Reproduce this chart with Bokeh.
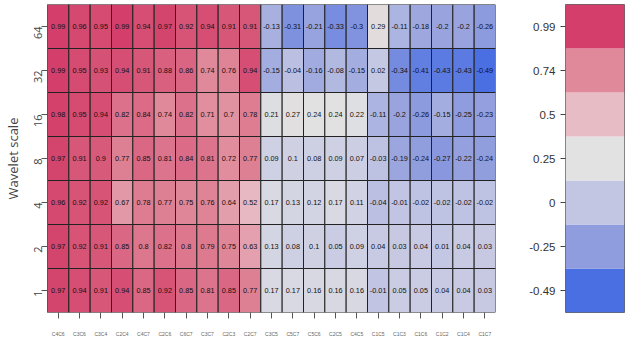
import math
from bokeh.plotting import figure
from bokeh.models import FactorRange, ColumnDataSource
from bokeh.layouts import row
from bokeh.core.properties import value
from bokeh.embed import file_html
from bokeh.resources import INLINE

pairs = ["C4C6", "C3C6", "C3C4", "C2C4", "C4C7", "C2C6", "C6C7", "C3C7", "C2C3", "C2C7",
         "C3C5", "C5C7", "C5C6", "C2C5", "C4C5", "C1C5", "C1C3", "C1C6", "C1C2", "C1C4", "C1C7"]
scales = ["1", "2", "4", "8", "16", "32", "64"]

s64 = [0.99, 0.96, 0.95, 0.99, 0.94, 0.97, 0.92, 0.94, 0.91, 0.91, -0.13, -0.31, -0.21, -0.33, -0.3, 0.29, -0.11, -0.18, -0.2, -0.2, -0.26]
s32 = [0.99, 0.95, 0.93, 0.94, 0.91, 0.88, 0.86, 0.74, 0.76, 0.94, -0.15, -0.04, -0.16, -0.08, -0.15, 0.02, -0.34, -0.41, -0.43, -0.43, -0.49]
s16 = [0.98, 0.95, 0.94, 0.82, 0.84, 0.74, 0.82, 0.71, 0.7, 0.78, 0.21, 0.27, 0.24, 0.24, 0.22, -0.11, -0.2, -0.26, -0.15, -0.25, -0.23]
s8 = [0.97, 0.91, 0.9, 0.77, 0.85, 0.81, 0.84, 0.81, 0.72, 0.77, 0.09, 0.1, 0.08, 0.09, 0.07, -0.03, -0.19, -0.24, -0.27, -0.22, -0.24]
s4 = [0.96, 0.92, 0.92, 0.67, 0.78, 0.77, 0.75, 0.76, 0.64, 0.52, 0.17, 0.13, 0.12, 0.17, 0.11, -0.04, -0.01, -0.02, -0.02, -0.02, -0.02]
s2 = [0.97, 0.92, 0.91, 0.85, 0.8, 0.82, 0.8, 0.79, 0.75, 0.63, 0.13, 0.08, 0.1, 0.05, 0.09, 0.04, 0.03, 0.04, 0.01, 0.04, 0.03]
s1 = [0.97, 0.94, 0.91, 0.94, 0.85, 0.92, 0.85, 0.81, 0.85, 0.77, 0.17, 0.17, 0.16, 0.16, 0.16, -0.01, 0.05, 0.05, 0.04, 0.04, 0.03]
rows_by_scale = {"1": s1, "2": s2, "4": s4, "8": s8, "16": s16, "32": s32, "64": s64}

legend_labels = ["-0.49", "-0.25", "0", "0.25", "0.5", "0.74", "0.99"]
legend_values = [-0.49, -0.25, 0.0, 0.25, 0.5, 0.74, 0.99]
legend_colors = ["#4A6FE3", "#8F9CDE", "#C3C6E3", "#E2E2E2", "#E8BCC5", "#E0899A", "#D33F6A"]


def hex2rgb(h):
    h = h.lstrip("#")
    return [int(h[i:i + 2], 16) for i in (0, 2, 4)]


def interp_color(v):
    if v <= legend_values[0]:
        return legend_colors[0]
    if v >= legend_values[-1]:
        return legend_colors[-1]
    for i in range(len(legend_values) - 1):
        a, b = legend_values[i], legend_values[i + 1]
        if a <= v <= b:
            t = (v - a) / (b - a)
            c1, c2 = hex2rgb(legend_colors[i]), hex2rgb(legend_colors[i + 1])
            c = [round(c1[k] + (c2[k] - c1[k]) * t) for k in range(3)]
            return "#%02X%02X%02X" % tuple(c)


xs, ys, vals, cols, labs = [], [], [], [], []
for sc in scales:
    for pr, v in zip(pairs, rows_by_scale[sc]):
        xs.append(pr)
        ys.append(sc)
        vals.append(v)
        cols.append(interp_color(v))
        labs.append(("%g" % v))

src = ColumnDataSource(dict(x=xs, y=ys, v=vals, c=cols, t=labs))

FONT = "Liberation Sans"

p = figure(x_range=FactorRange(*pairs), y_range=FactorRange(*scales),
           frame_width=448, frame_height=308,
           min_border_left=46, min_border_right=6, min_border_top=4, min_border_bottom=33,
           output_backend="svg", toolbar_location=None)
p.rect(x="x", y="y", width=1, height=1, source=src, fill_color="c",
       line_color="#222222", line_width=1)
p.text(x="x", y="y", text="t", source=src, text_align="center", text_baseline="middle",
       text_font_size="7.3px", text_color="#111111", text_font=value(FONT))

p.xgrid.visible = False
p.ygrid.visible = False
p.outline_line_color = None

p.xaxis.axis_line_color = None
p.xaxis.major_tick_out = 6
p.xaxis.major_tick_in = 0
p.xaxis.major_tick_line_color = "#555555"
p.xaxis.major_label_text_font_size = "5px"
p.xaxis.major_label_text_color = "#666666"
p.xaxis.major_label_standoff = 12

p.yaxis.axis_line_color = "#555555"
p.yaxis.major_tick_out = 6
p.yaxis.major_tick_in = 0
p.yaxis.major_tick_line_color = "#555555"
p.yaxis.major_label_orientation = math.pi / 2
p.yaxis.major_label_text_font_size = "11px"
p.yaxis.major_label_text_color = "#444444"
p.yaxis.major_label_text_font = "Open Sans"
p.yaxis.major_label_standoff = 4
p.yaxis.axis_label = "Wavelet scale"
p.yaxis.axis_label_text_font_style = "normal"
p.yaxis.axis_label_text_font_size = "13px"
p.yaxis.axis_label_text_font = "Open Sans"
p.yaxis.axis_label_text_color = "#444444"
p.yaxis.axis_label_standoff = 5

csrc = ColumnDataSource(dict(x=[0.5] * len(legend_labels), y=legend_labels, c=legend_colors))
p2 = figure(x_range=(0, 1), y_range=FactorRange(*legend_labels),
            frame_width=59, frame_height=308,
            min_border_left=64, min_border_right=8, min_border_top=4, min_border_bottom=33,
            output_backend="svg", toolbar_location=None)
p2.rect(x="x", y="y", width=1, height=1, source=csrc, fill_color="c", line_color=None)
p2.xgrid.visible = False
p2.ygrid.visible = False
p2.xaxis.visible = False
p2.outline_line_color = "#666666"
p2.yaxis.axis_line_color = None
p2.yaxis.major_tick_out = 5
p2.yaxis.major_tick_in = 0
p2.yaxis.major_tick_line_color = "#444444"
p2.yaxis.major_label_text_font_size = "11.5px"
p2.yaxis.major_label_text_font = FONT
p2.yaxis.major_label_text_color = "#333333"
p2.yaxis.major_label_standoff = 5

layout = row(p, p2, spacing=0)
open("out.html", "w").write(file_html(layout, INLINE))
